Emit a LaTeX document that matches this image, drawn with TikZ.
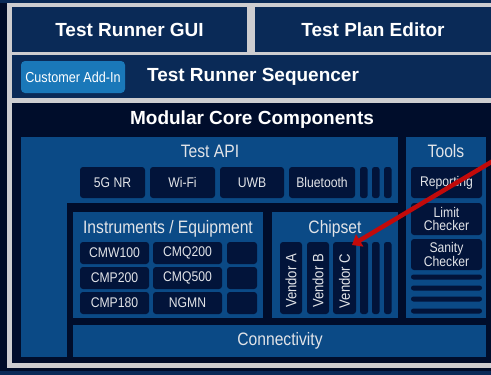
\documentclass[tikz,border=0pt]{standalone}
\usepackage{fontspec}
\setmainfont{Liberation Sans}
\newfontfamily\nf[FakeStretch=0.87]{Liberation Sans}
\usetikzlibrary{arrows.meta}
\definecolor{bgdark}{HTML}{000C28}
\definecolor{framegray}{HTML}{CDCDD0}
\definecolor{rownavy}{HTML}{0A2A57}
\definecolor{corebg}{HTML}{000D2B}
\definecolor{midblue}{HTML}{0B4A86}
\definecolor{itemdark}{HTML}{02143A}
\definecolor{txtlight}{HTML}{E2E4E8}
\definecolor{addin}{HTML}{1A78B9}
\definecolor{arrowred}{HTML}{C20A0A}
\newcommand\bx[7]{\node[#2, anchor=north west, minimum width={(#5-#3)*1pt}, minimum height={(#6-#4)*1pt}, inner sep=0pt, outer sep=0pt] (#1) at (#3,#4) {#7};}
\tikzset{
  rowbox/.style={fill=rownavy, text=white, font=\bfseries\fontsize{19}{22}\selectfont},
  corebox/.style={fill=corebg},
  bluebox/.style={fill=midblue},
  itembox/.style={fill=itemdark, rounded corners=3pt, text=txtlight, font=\nf\fontsize{14}{13}\selectfont, align=center},
  barbox/.style={fill=itemdark, rounded corners=2.5pt},
  sectitle/.style={text=txtlight, font=\nf\fontsize{18}{20}\selectfont, inner sep=0pt},
  boldtitle/.style={text=white, font=\bfseries\fontsize{19}{22}\selectfont, inner sep=0pt},
  addinbox/.style={fill=addin, rounded corners=4pt, text=white, font=\nf\fontsize{14.5}{16}\selectfont},
  vendortext/.style={rotate=90, text=txtlight, font=\nf\fontsize{15}{16}\selectfont, inner sep=0pt},
  redarrow/.style={draw=arrowred, line width=4.5pt, -{Triangle[length=9pt,width=14pt]}}
}
\begin{document}
\begin{tikzpicture}[x=1pt,y=-1pt]
\useasboundingbox (0,0) rectangle (491,375);
\fill[bgdark] (0,0) rectangle (491,375);
\fill[rownavy] (0,0) rectangle (491,3);
\fill[framegray] (7,3) rectangle (491,368);
\fill[rownavy] (0,371) rectangle (491,375);
% top rows
\bx{gui}{rowbox}{12}{7}{247}{52}{Test Runner GUI}
\bx{plan}{rowbox}{255}{7}{491}{52}{Test Plan Editor}
\bx{seq}{rowbox}{12}{55}{491}{98}{}
\node[boldtitle] (seqt) at (253,77) {Test Runner Sequencer};
\bx{addin}{addinbox}{21}{61}{125}{93}{Customer Add-In}
% core
\bx{core}{corebox}{12}{103}{491}{363}{}
\node[boldtitle] (coret) at (252,120) {Modular Core Components};
% Test API
\bx{api}{bluebox}{21}{137}{398}{357}{}
\bx{apicut}{corebox}{67}{203}{398}{357.5}{}
\node[sectitle] (apit) at (210,151) {Test API};
\bx{nr}{itembox}{80}{167}{145}{198}{5G NR}
\bx{wifi}{itembox}{150}{167}{215}{198}{Wi-Fi}
\bx{uwb}{itembox}{220}{167}{284}{198}{UWB}
\bx{bt}{itembox}{289}{167}{355}{198}{Bluetooth}
\bx{ab1}{barbox}{360}{167}{367.5}{198}{}
\bx{ab2}{barbox}{372}{167}{379.5}{198}{}
\bx{ab3}{barbox}{384}{167}{391.5}{198}{}
% Tools
\bx{tools}{bluebox}{406}{137}{486}{318}{}
\node[sectitle] (toolst) at (446,151) {Tools};
\bx{rep}{itembox}{411}{167}{482}{198}{Reporting}
\bx{lim}{itembox}{411}{203}{482}{235}{Limit\\Checker}
\bx{san}{itembox}{411}{239}{482}{270}{Sanity\\Checker}
\bx{tb1}{barbox}{411}{274.5}{482}{279.5}{}
\bx{tb2}{barbox}{411}{285.5}{482}{290.5}{}
\bx{tb3}{barbox}{411}{296.5}{482}{301.5}{}
\bx{tb4}{barbox}{411}{308.5}{482}{313.5}{}
% Instruments
\bx{inst}{bluebox}{73}{212}{263}{318}{}
\node[sectitle] (instt) at (168,229) {Instruments / Equipment};
\bx{i11}{itembox}{80}{242}{149}{264}{CMW100}
\bx{i12}{itembox}{153}{242}{222}{264}{CMQ200}
\bx{i13}{itembox}{227}{242}{257}{264}{}
\bx{i21}{itembox}{80}{267}{149}{289}{CMP200}
\bx{i22}{itembox}{153}{267}{222}{289}{CMQ500}
\bx{i23}{itembox}{227}{267}{257}{289}{}
\bx{i31}{itembox}{80}{292}{149}{314}{CMP180}
\bx{i32}{itembox}{153}{292}{222}{314}{NGMN}
\bx{i33}{itembox}{227}{292}{257}{314}{}
% Chipset
\bx{chip}{bluebox}{272}{212}{398}{318}{}
\node[sectitle] (chipt) at (335,229) {Chipset};
\bx{va}{itembox}{280}{242}{302}{314}{}
\bx{vb}{itembox}{307}{242}{329}{314}{}
\bx{vc}{itembox}{333}{242}{356}{314}{}
\node[vendortext] (vat) at ([yshift=-3pt]va.center) {Vendor A};
\node[vendortext] (vbt) at ([yshift=-3pt]vb.center) {Vendor B};
\node[vendortext] (vct) at ([yshift=-3pt]vc.center) {Vendor C};
\bx{cb1}{barbox}{360}{242}{368}{314}{}
\bx{cb2}{barbox}{372}{242}{379.5}{314}{}
\bx{cb3}{barbox}{384}{242}{391.5}{314}{}
% Connectivity
\bx{conn}{bluebox}{73}{325}{486}{357}{}
\node[sectitle] (connt) at (280,341) {Connectivity};
% red arrow
\coordinate (as) at (493,161);
\coordinate (at) at (352,245);
\draw[redarrow] (as) -- (at);
\end{tikzpicture}
\end{document}
